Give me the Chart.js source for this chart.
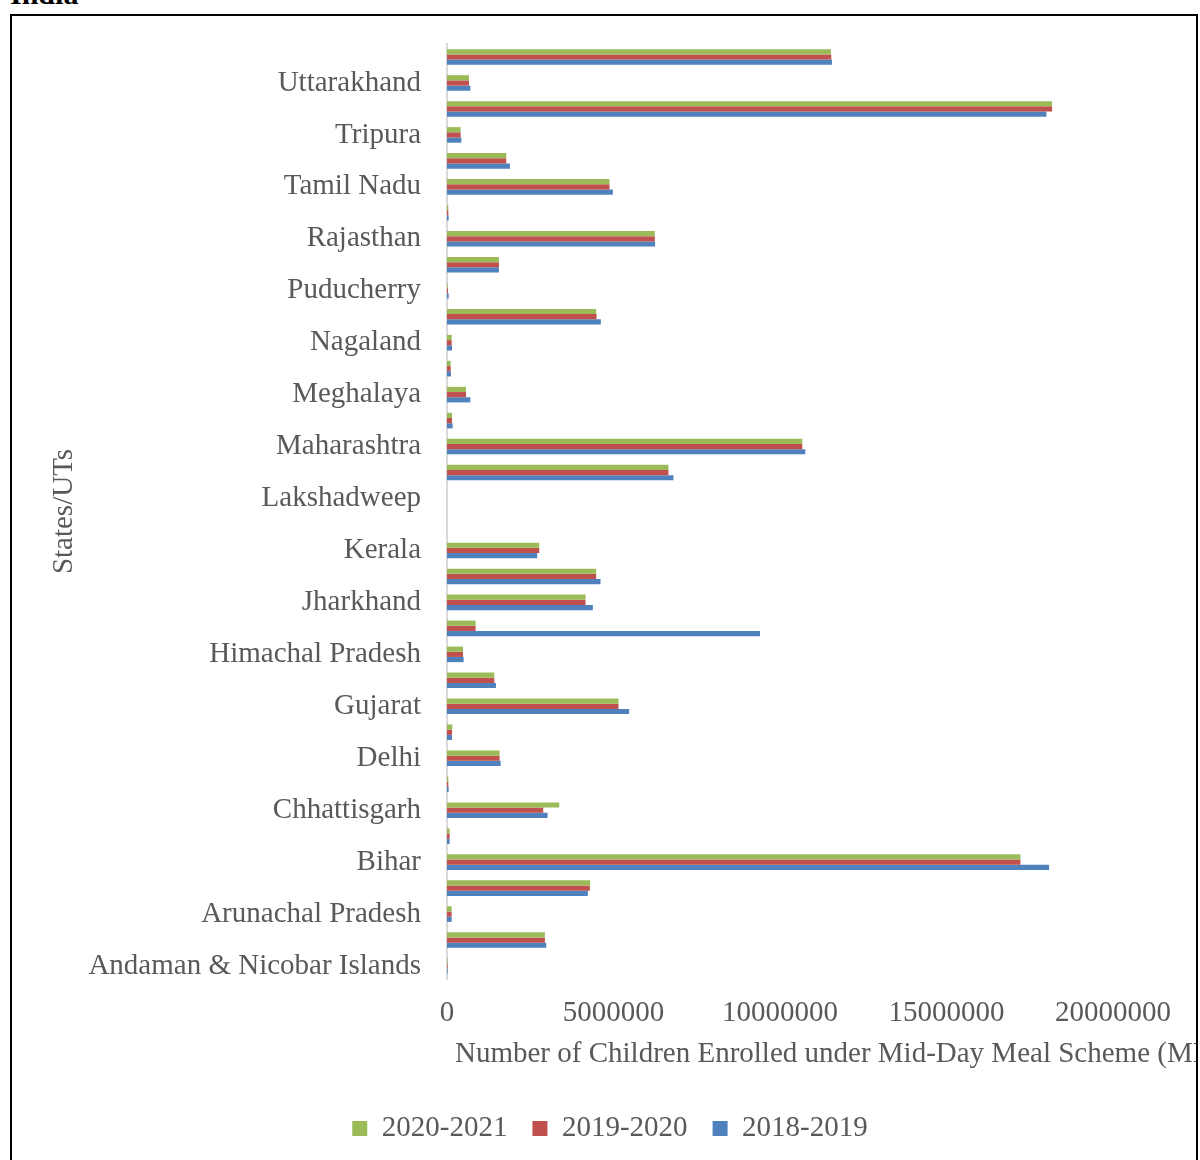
<!DOCTYPE html>
<html>
<head>
<meta charset="utf-8">
<script src="https://cdn.jsdelivr.net/npm/chart.js@4"></script>
<style>
  html, body { margin: 0; padding: 0; background: #fff; overflow: hidden; width: 1200px; height: 1160px; }
  #heading { position: absolute; left: 10px; top: -21px; font: bold 30px "Liberation Serif", serif; line-height: 30px; color: #000; }
  #frame { position: absolute; left: 10px; top: 14px; width: 1184px; height: 1200px; border: 2px solid #000; overflow: hidden; }
  #grafico { position: absolute; left: 0; top: 0; }
</style>
</head>
<body>
<div id="heading">India</div>
<div id="frame"><canvas id="grafico" width="1196" height="1150"></canvas></div>
<script>
// categories as listed in the sheet (first one sits at the bottom)
const categories = [
  "Andaman & Nicobar Islands", "Andhra Pradesh", "Arunachal Pradesh", "Assam", "Bihar",
  "Chandigarh", "Chhattisgarh", "Dadra & Nagar Haveli and Daman & Diu", "Delhi", "Goa",
  "Gujarat", "Haryana", "Himachal Pradesh", "Jammu & Kashmir", "Jharkhand",
  "Karnataka", "Kerala", "Ladakh", "Lakshadweep", "Madhya Pradesh",
  "Maharashtra", "Manipur", "Meghalaya", "Mizoram", "Nagaland",
  "Odisha", "Puducherry", "Punjab", "Rajasthan", "Sikkim",
  "Tamil Nadu", "Telangana", "Tripura", "Uttar Pradesh", "Uttarakhand", "West Bengal"
];

const enrol2020_21 = [
  20000, 2940000, 140000, 4300000, 17220000,
  80000, 3370000, 40000, 1580000, 160000,
  5150000, 1420000, 480000, 860000, 4160000,
  4480000, 2770000, 0, 0, 6650000,
  10670000, 150000, 570000, 110000, 140000,
  4480000, 20000, 1560000, 6240000, 40000,
  4880000, 1780000, 410000, 18170000, 660000, 11530000
];

const enrol2019_20 = [
  20000, 2940000, 140000, 4290000, 17220000,
  80000, 2890000, 40000, 1580000, 150000,
  5150000, 1420000, 480000, 860000, 4160000,
  4480000, 2770000, 0, 0, 6650000,
  10670000, 150000, 570000, 110000, 140000,
  4490000, 30000, 1560000, 6240000, 40000,
  4880000, 1780000, 410000, 18170000, 660000, 11540000
];

const enrol2018_19 = [
  20000, 2980000, 140000, 4230000, 18080000,
  80000, 3020000, 50000, 1610000, 150000,
  5470000, 1470000, 500000, 9400000, 4380000,
  4610000, 2710000, 0, 0, 6800000,
  10760000, 170000, 700000, 120000, 150000,
  4620000, 50000, 1560000, 6250000, 50000,
  4980000, 1890000, 430000, 18000000, 700000, 11560000
];

const seriesNames = ["2020-2021", "2019-2020", "2018-2019"];
const xMax = 20000000;
const xStep = 5000000;
const xTitle = "Number of Children Enrolled under Mid-Day Meal Scheme (MDMS)";
const yTitle = "States/UTs";

const fuente = '"Liberation Serif", "Times New Roman", serif';
Chart.defaults.font.family = fuente;
Chart.defaults.font.size = 29;
Chart.defaults.color = "#595959";

// x axis title starts at the left of the plot and runs past the frame
const tituloX = {
  id: "tituloX",
  afterDraw(chart) {
    const ctx = chart.ctx;
    ctx.save();
    ctx.font = "29px " + fuente;
    ctx.fillStyle = "#595959";
    ctx.textBaseline = "middle";
    ctx.textAlign = "left";
    ctx.fillText(xTitle, chart.chartArea.left + 8, chart.chartArea.bottom + 75);
    ctx.restore();
  }
};

let ctx = document.getElementById("grafico").getContext("2d");

new Chart(ctx, {
  type: "bar",
  data: {
    labels: categories,
    datasets: [{
      label: seriesNames[0],
      data: enrol2020_21,
      backgroundColor: "#9BBB59"
    }, {
      label: seriesNames[1],
      data: enrol2019_20,
      backgroundColor: "#C0504D"
    }, {
      label: seriesNames[2],
      data: enrol2018_19,
      backgroundColor: "#4F81BD"
    }]
  },
  options: {
    indexAxis: "y",
    responsive: false,
    animation: false,
    barPercentage: 1,
    categoryPercentage: 0.6,
    layout: { padding: { top: 28, left: 0, right: 0, bottom: 13 } },
    plugins: {
      tooltip: { enabled: false },
      legend: {
        position: "bottom",
        labels: { boxWidth: 15, boxHeight: 15, padding: 25, color: "#595959" }
      }
    },
    scales: {
      x: {
        min: 0,
        max: xMax,
        grid: { display: false, drawTicks: false },
        border: { display: false },
        ticks: { stepSize: xStep, padding: 17, callback: v => String(v) },
        afterFit: s => { s.height = 110; }
      },
      y: {
        reverse: true,
        grid: { display: false, drawTicks: false },
        border: { display: true, color: "#d9d9d9", width: 2 },
        ticks: {
          autoSkip: false,
          padding: 26,
          callback: (v, i) => (i % 2 === 0 ? categories[i] : "")
        },
        title: { display: true, text: yTitle, padding: { top: 35, bottom: 0 } },
        afterFit: s => {
          s.width = 435;
          s.paddingTop = 0;
          s.paddingBottom = 0;
        }
      },
      y2: {
        type: "linear",
        position: "right",
        display: true,
        grid: { display: false, drawTicks: false },
        border: { display: false },
        ticks: { display: false },
        afterFit: s => { s.width = 95; }
      }
    }
  },
  plugins: [tituloX]
});
</script>
</body>
</html>
